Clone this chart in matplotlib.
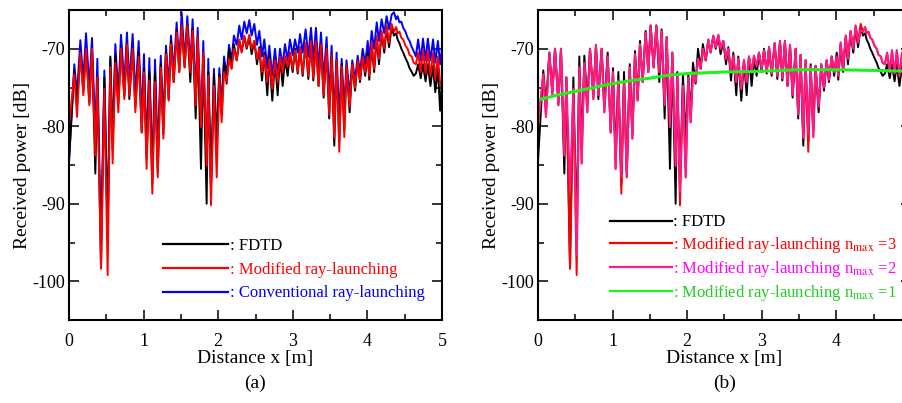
import numpy as np
import matplotlib
matplotlib.use("Agg")
import matplotlib.pyplot as plt
from matplotlib.lines import Line2D

plt.rcParams['font.family'] = 'Liberation Serif'
plt.rcParams['mathtext.fontset'] = 'stix'
plt.rcParams['axes.unicode_minus'] = False

# positions (m) of the peaks / troughs
x_ext = [0.000, 0.071, 0.107, 0.152, 0.192, 0.228, 0.273, 0.308, 0.353, 0.380,
         0.429, 0.474, 0.518, 0.554, 0.585, 0.621, 0.661, 0.697, 0.742, 0.777,
         0.809, 0.853, 0.889, 0.934, 0.975, 1.005, 1.040, 1.077, 1.117, 1.153,
         1.190, 1.230, 1.265, 1.300, 1.336, 1.367, 1.403, 1.443, 1.478, 1.510,
         1.550, 1.586, 1.626, 1.657, 1.698, 1.725, 1.769, 1.800, 1.845, 1.867,
         1.903, 1.943, 1.980, 2.015, 2.046, 2.078, 2.113, 2.145, 2.180, 2.210,
         2.248, 2.283, 2.314, 2.350, 2.382, 2.417, 2.448, 2.484, 2.520, 2.551,
         2.587, 2.618, 2.658, 2.685, 2.725, 2.761, 2.797, 2.828, 2.864, 2.895,
         2.931, 2.962, 2.998, 3.030, 3.066, 3.097, 3.132, 3.172, 3.208, 3.244,
         3.275, 3.310, 3.345, 3.378, 3.413, 3.453, 3.488, 3.520, 3.556, 3.587,
         3.623, 3.655, 3.690, 3.720, 3.762, 3.797, 3.834, 3.870, 3.900, 3.937,
         3.970, 4.004, 4.025, 4.057, 4.090, 4.125, 4.155, 4.190, 4.226, 4.258,
         4.290, 4.325, 4.356, 4.385, 4.405, 4.430, 4.455, 4.480, 4.510, 4.540,
         4.565, 4.595, 4.620, 4.650, 4.680, 4.715, 4.745, 4.780, 4.810, 4.845,
         4.880, 4.910, 4.945, 4.975, 5.000]

fdtd = [-84.5, -72.8, -77.3, -70.5, -75.5, -70.0, -77.0, -70.0, -86.1, -73.7,
        -98.2, -73.7, -93.6, -71.0, -83.0, -70.9, -77.0, -70.0, -76.1, -69.5,
        -76.5, -70.0, -77.5, -70.5, -80.8, -72.5, -84.2, -73.0, -87.5, -73.0,
        -86.0, -72.0, -81.0, -70.3, -76.5, -69.0, -74.3, -67.7, -73.0, -67.0,
        -72.4, -67.0, -74.3, -67.5, -79.0, -68.5, -85.5, -70.5, -90.0, -73.0,
        -87.6, -73.3, -82.0, -73.3, -78.5, -71.8, -74.5, -70.0, -72.5, -69.4,
        -71.5, -69.0, -70.3, -68.5, -70.0, -68.5, -70.7, -69.0, -72.0, -69.8,
        -74.1, -70.5, -76.0, -71.0, -76.7, -71.5, -76.0, -71.0, -74.8, -71.3,
        -73.5, -70.5, -73.0, -70.0, -73.2, -69.8, -73.5, -69.3, -73.9, -69.0,
        -74.1, -69.0, -74.8, -69.5, -76.3, -70.0, -79.0, -70.8, -82.5, -71.5,
        -82.0, -72.0, -80.5, -72.2, -78.2, -72.0, -75.4, -71.5, -74.3, -71.0,
        -73.5, -70.5, -74.0, -69.5, -73.0, -68.6, -72.0, -68.0, -70.5, -67.3,
        -69.8, -67.2, -68.3, -68.0, -68.8, -69.3, -70.0, -70.5, -71.2, -71.8,
        -72.5, -73.0, -73.5, -73.2, -72.0, -73.8, -72.0, -74.2, -72.0, -74.8,
        -72.2, -75.6, -72.5, -78.0, -74.0]

mod_n3 = [-80.0, -73.3, -78.8, -70.5, -76.0, -70.0, -77.3, -70.0, -83.8, -73.7,
          -98.4, -75.2, -99.2, -72.4, -84.8, -71.8, -78.2, -70.0, -76.5, -69.5,
          -76.0, -70.0, -78.2, -71.0, -80.8, -73.0, -85.5, -74.1, -88.7, -74.3,
          -86.6, -72.4, -81.6, -70.7, -76.7, -69.4, -74.3, -67.9, -73.0, -67.0,
          -72.4, -67.0, -73.0, -67.7, -77.3, -68.5, -80.1, -70.5, -85.1, -73.5,
          -90.2, -74.8, -86.6, -73.7, -79.5, -73.0, -74.3, -71.3, -72.6, -70.0,
          -71.5, -68.8, -70.5, -68.3, -69.8, -68.2, -70.0, -69.0, -71.3, -70.0,
          -73.0, -70.9, -74.3, -71.3, -75.2, -71.5, -74.3, -71.0, -73.0, -70.9,
          -72.2, -70.5, -72.6, -70.2, -73.0, -69.8, -73.2, -69.3, -73.5, -69.0,
          -73.8, -69.0, -74.8, -69.5, -76.0, -70.0, -78.5, -70.8, -81.5, -71.5,
          -83.3, -72.3, -81.4, -72.2, -77.5, -72.0, -75.0, -71.5, -74.0, -71.0,
          -73.0, -71.0, -73.5, -69.2, -72.6, -68.3, -71.3, -67.7, -70.0, -67.0,
          -69.2, -66.8, -67.8, -67.2, -68.0, -67.8, -68.6, -68.8, -69.6, -70.0,
          -70.8, -71.0, -71.8, -72.0, -70.5, -73.0, -70.2, -73.2, -70.2, -73.5,
          -70.5, -73.9, -71.0, -74.5, -75.0]

conv = [-84.5, -72.0, -76.0, -68.9, -74.0, -68.0, -75.0, -68.6, -81.0, -71.3,
        -95.0, -72.8, -94.0, -71.2, -82.0, -69.4, -76.0, -68.2, -74.5, -67.9,
        -74.5, -68.1, -76.0, -69.0, -79.0, -70.7, -83.0, -71.2, -86.0, -71.4,
        -84.0, -70.9, -79.5, -69.6, -75.0, -68.3, -73.0, -66.6, -72.0, -65.3,
        -71.5, -65.8, -72.0, -66.2, -76.0, -67.3, -80.0, -69.0, -86.0, -71.3,
        -88.0, -72.6, -83.0, -72.5, -77.5, -71.0, -73.5, -69.5, -71.5, -68.3,
        -69.5, -67.0, -68.8, -66.5, -68.0, -66.3, -68.3, -66.8, -69.5, -67.7,
        -71.0, -68.8, -72.5, -69.6, -73.5, -70.0, -73.5, -70.0, -72.2, -69.4,
        -71.5, -68.8, -70.8, -68.8, -70.5, -68.1, -70.5, -67.5, -71.0, -67.3,
        -71.5, -67.3, -72.5, -67.9, -74.0, -68.5, -76.5, -69.6, -79.0, -70.5,
        -79.5, -71.3, -78.0, -71.5, -76.0, -71.5, -74.0, -70.9, -73.0, -70.0,
        -72.0, -69.0, -71.5, -67.7, -70.0, -66.6, -69.0, -66.2, -68.0, -65.8,
        -67.5, -65.6, -65.3, -66.2, -65.8, -66.6, -66.5, -67.3, -67.8, -68.6,
        -69.0, -69.8, -70.3, -71.0, -68.8, -71.5, -68.7, -71.5, -68.7, -71.5,
        -68.8, -71.8, -69.0, -72.0, -70.0]

# n_max = 2 differs from n_max = 3 only at a few extremes
n2_changes = {0.429: -88.0, 0.518: -96.6, 1.117: -86.5, 1.903: -88.5,
              3.623: -81.0, 4.325: -67.6, 4.975: -73.5}
mod_n2 = [n2_changes.get(x, y) for x, y in zip(x_ext, mod_n3)]

# n_max = 1 (smooth)
x_n1 = [0.0, 0.25, 0.5, 0.75, 1.0, 1.25, 1.5, 1.75, 2.0, 2.5, 3.0, 3.5, 4.0, 4.5, 5.0]
mod_n1 = [-76.6, -76.0, -75.5, -75.0, -74.5, -74.1, -73.8, -73.4, -73.2, -73.0,
          -72.9, -72.7, -72.7, -72.8, -72.9]

x_ticks = [0, 1, 2, 3, 4, 5]

W, H = 903, 403
fig = plt.figure(figsize=(W / 100, H / 100), dpi=100)
ax1 = fig.add_axes([69 / W, 83 / H, 373 / W, 310 / H])
ax2 = fig.add_axes([538 / W, 83 / H, 373 / W, 310 / H])

ax1.plot(x_ext, conv, color='#0000ff', lw=1.4)
ax1.plot(x_ext, fdtd, color='black', lw=1.4)
ax1.plot(x_ext, mod_n3, color='#ff0000', lw=1.4)

ax2.plot(x_ext, fdtd, color='black', lw=1.4)
ax2.plot(x_ext, mod_n3, color='#ff0000', lw=1.4)
ax2.plot(x_ext, mod_n2, color='#ff1a8c', lw=1.4)
ax2.plot(x_n1, mod_n1, color='#22ee22', lw=2.2)

for ax, tag in [(ax1, '(a)'), (ax2, '(b)')]:
    ax.set_xlim(0, 5)
    ax.set_ylim(-105, -65)
    ax.set_xticks(x_ticks)
    ax.set_xticks(np.arange(0, 5.01, 0.5), minor=True)
    ax.set_yticks([-100, -90, -80, -70])
    ax.set_yticks(np.arange(-105, -64, 5), minor=True)
    ax.tick_params(which='both', direction='in', top=True, right=True,
                   labelsize=13, width=1.1)
    ax.tick_params(axis='x', which='both', pad=9)
    ax.tick_params(axis='y', which='both', pad=3)
    ax.tick_params(which='major', length=7)
    ax.tick_params(which='minor', length=4)
    for s in ax.spines.values():
        s.set_linewidth(1.5)
    ax.set_xlabel('Distance x [m]', fontsize=14, labelpad=0)
    ax.set_ylabel('Received power [dB]', fontsize=14, labelpad=1)
    ax.text(0.5, -0.203, tag, transform=ax.transAxes, ha='center', va='center',
            fontsize=14)

# the right panel is cut at the picture edge, so its "5" is not shown
ax2.set_xticklabels([str(t) for t in x_ticks[:-1]] + [''])

h1 = [Line2D([], [], color=c, lw=1.6) for c in ['black', '#ff0000', '#0000ff']]
ax1.legend(h1, [': FDTD', ': Modified ray-launching', ': Conventional ray-launching'],
           loc='lower left', bbox_to_anchor=(0.252, 0.06), frameon=False,
           borderpad=0, borderaxespad=0, handlelength=3.9, handletextpad=0.1,
           labelspacing=0.47, fontsize=12, labelcolor=['black', 'red', 'blue'])

h2 = [Line2D([], [], color=c, lw=1.6) for c in ['black', '#ff0000', '#ff1a8c', '#22ee22']]
ax2.legend(h2, [': FDTD',
                r': Modified ray-launching n$_{\mathrm{max}}$ =3',
                r': Modified ray-launching n$_{\mathrm{max}}$ =2',
                r': Modified ray-launching n$_{\mathrm{max}}$ =1'],
           loc='lower left', bbox_to_anchor=(0.193, 0.055), frameon=False,
           borderpad=0, borderaxespad=0, handlelength=3.7, handletextpad=0.1,
           labelspacing=0.25, fontsize=12,
           labelcolor=['black', 'red', '#ff00ff', '#22cc22'])

fig.savefig('out.png', dpi=100)
